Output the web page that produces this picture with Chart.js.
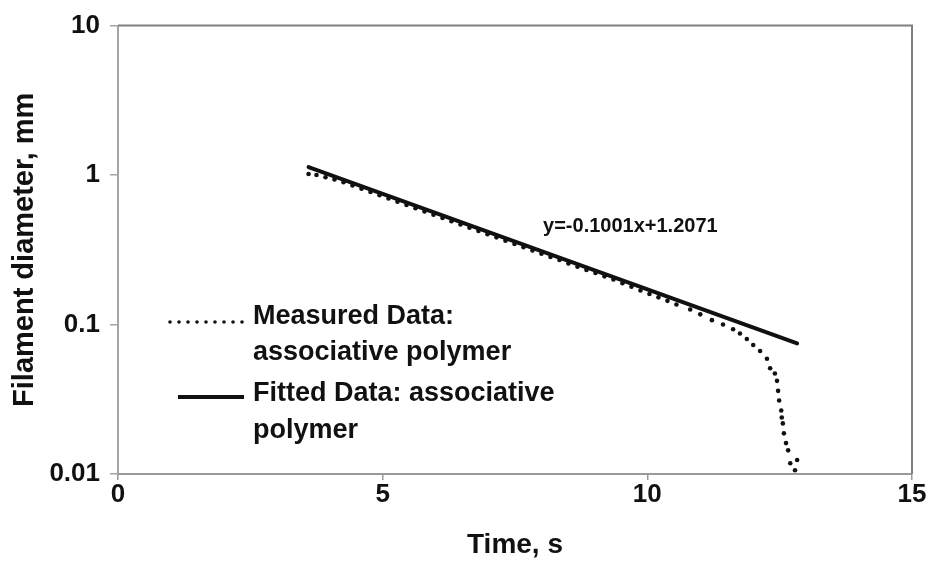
<!DOCTYPE html>
<html>
<head>
<meta charset="utf-8">
<script src="https://cdn.jsdelivr.net/npm/chart.js@4/dist/chart.umd.min.js"></script>
<style>
  html, body { margin: 0; padding: 0; background: #fff; }
  canvas { display: block; }
</style>
</head>
<body>
<canvas id="filamentChart" width="938" height="565"></canvas>
<script>
// measured filament diameter (mm) vs time (s)
const measuredX = [3.60, 3.75, 3.92, 4.09, 4.26, 4.43, 4.60, 4.77, 4.94, 5.11,
  5.28, 5.45, 5.62, 5.79, 5.96, 6.13, 6.30, 6.47, 6.64, 6.81,
  6.98, 7.15, 7.32, 7.49, 7.66, 7.83, 8.00, 8.17, 8.34, 8.51,
  8.68, 8.85, 9.02, 9.19, 9.36, 9.53, 9.70, 9.87, 10.04, 10.21,
  10.38, 10.55, 10.81, 11.00, 11.22, 11.43, 11.62, 11.75, 11.88, 12.00,
  12.13, 12.26, 12.32, 12.41, 12.45, 12.47, 12.49, 12.53, 12.54, 12.56,
  12.58, 12.62, 12.66, 12.70, 12.79, 12.83];
const measuredY = [1.016, 1.00, 0.966, 0.934, 0.895, 0.851, 0.810, 0.770, 0.733, 0.697,
  0.663, 0.631, 0.600, 0.571, 0.543, 0.516, 0.491, 0.467, 0.444, 0.423,
  0.402, 0.383, 0.364, 0.346, 0.329, 0.313, 0.298, 0.283, 0.270, 0.256,
  0.244, 0.232, 0.221, 0.210, 0.200, 0.189, 0.179, 0.169, 0.160, 0.152,
  0.144, 0.136, 0.126, 0.117, 0.107, 0.100, 0.093, 0.087, 0.080, 0.073,
  0.0665, 0.059, 0.051, 0.047, 0.042, 0.036, 0.031, 0.0266, 0.0239, 0.0218,
  0.0187, 0.0161, 0.0144, 0.0118, 0.0106, 0.0124];

// fitted line end points
const fittedX = [3.6, 12.83];
const fittedY = [1.13, 0.0748];

const seriesNames = [
  ["Measured Data:", "associative polymer"],
  ["Fitted Data: associative", "polymer"]
];
const fitEquation = "y=-0.1001x+1.2071";
const equationAt = [8.03, 0.45];

const xTicks = [0, 5, 10, 15];
const yTicks = [0.01, 0.1, 1, 10];
const yTickLabels = ["0.01", "0.1", "1", "10"];

const FONT = "'Liberation Sans', Arial, sans-serif";

function toPoints(xs, ys) {
  return xs.map((x, i) => ({ x: x, y: ys[i] }));
}

// top and right frame lines, plus legend and equation text
const framePlugin = {
  id: "frameAndLegend",
  afterDraw(chart) {
    const ctx = chart.ctx;
    const area = chart.chartArea;
    ctx.save();
    ctx.strokeStyle = "#7f7f7f";
    ctx.lineWidth = 2;
    ctx.beginPath();
    ctx.moveTo(area.left, area.top);
    ctx.lineTo(area.right, area.top);
    ctx.lineTo(area.right, area.bottom);
    ctx.stroke();

    // equation label
    const xs = chart.scales.x, ys = chart.scales.y;
    ctx.fillStyle = "#111";
    ctx.font = "bold 20px " + FONT;
    ctx.textBaseline = "middle";
    ctx.textAlign = "left";
    ctx.fillText(fitEquation, xs.getPixelForValue(equationAt[0]), ys.getPixelForValue(equationAt[1]));

    // legend
    const textX = 253;
    ctx.font = "bold 27px " + FONT;
    ctx.fillText(seriesNames[0][0], textX, 317);
    ctx.fillText(seriesNames[0][1], textX, 353);
    ctx.fillText(seriesNames[1][0], textX, 394);
    ctx.fillText(seriesNames[1][1], textX, 431);

    ctx.fillStyle = "#111";
    for (let px = 170; px <= 243; px += 9) {
      ctx.beginPath();
      ctx.arc(px, 322, 1.8, 0, Math.PI * 2);
      ctx.fill();
    }
    ctx.strokeStyle = "#111";
    ctx.lineWidth = 4;
    ctx.beginPath();
    ctx.moveTo(178, 397);
    ctx.lineTo(244, 397);
    ctx.stroke();
    ctx.restore();
  }
};

const ctx = document.getElementById("filamentChart").getContext("2d");
new Chart(ctx, {
  type: "scatter",
  data: {
    datasets: [
      {
        label: seriesNames[0].join(" "),
        data: toPoints(measuredX, measuredY),
        showLine: false,
        pointRadius: 2.3,
        pointBackgroundColor: "#111",
        pointBorderWidth: 0,
      },
      {
        label: seriesNames[1].join(" "),
        data: toPoints(fittedX, fittedY),
        showLine: true,
        borderColor: "#111",
        borderWidth: 4,
        pointRadius: 0,
        borderCapStyle: "round",
      },
    ],
  },
  options: {
    responsive: false,
    animation: false,
    layout: { padding: { top: 22, right: 26, left: 0, bottom: 0 } },
    plugins: {
      legend: { display: false },
      tooltip: { enabled: false },
    },
    scales: {
      x: {
        type: "linear",
        min: 0,
        max: 15,
        afterBuildTicks: (scale) => { scale.ticks = xTicks.map(v => ({ value: v })); },
        afterFit: (scale) => { scale.height = 91; },
        grid: { drawOnChartArea: false, tickLength: 6, color: "#9a9a9a", lineWidth: 1.5 },
        border: { color: "#9a9a9a", width: 2 },
        ticks: {
          padding: -1,
          color: "#111",
          font: { family: FONT, size: 26, weight: "bold" },
        },
        title: {
          display: true,
          text: "Time, s",
          color: "#111",
          font: { family: FONT, size: 28, weight: "bold" },
          padding: { top: 0, bottom: 3 },
        },
      },
      y: {
        type: "logarithmic",
        min: 0.01,
        max: 10,
        afterBuildTicks: (scale) => { scale.ticks = yTicks.map(v => ({ value: v })); },
        afterFit: (scale) => { scale.width = 118; },
        grid: { drawOnChartArea: false, tickLength: 8, color: "#a5a5a5", lineWidth: 1.5 },
        border: { color: "#a5a5a5", width: 2 },
        ticks: {
          padding: 10,
          color: "#111",
          font: { family: FONT, size: 26, weight: "bold" },
          callback: (value, index) => yTickLabels[index],
        },
        title: {
          display: true,
          text: "Filament diameter, mm",
          color: "#111",
          font: { family: FONT, size: 29, weight: "bold" },
          padding: { top: 8, bottom: 0 },
        },
      },
    },
  },
  plugins: [framePlugin],
});
</script>
</body>
</html>
